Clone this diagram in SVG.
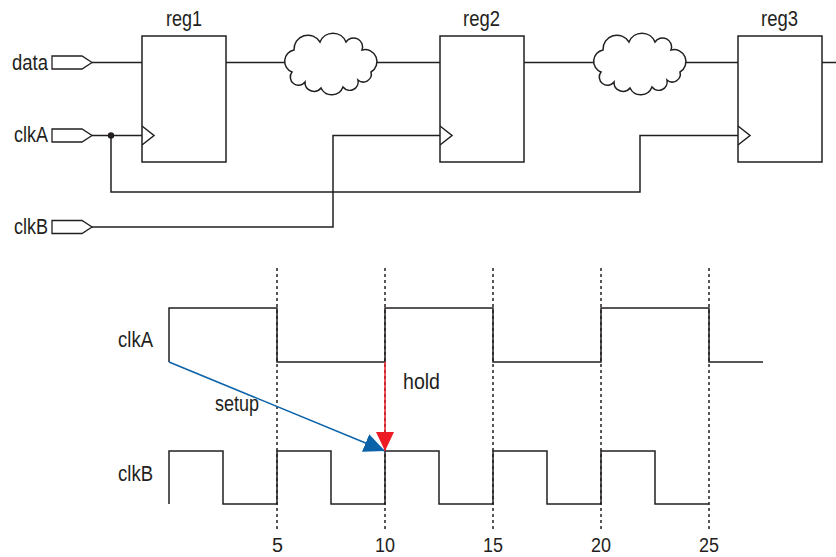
<svg xmlns="http://www.w3.org/2000/svg" width="836" height="557" viewBox="0 0 836 557">
<defs>
<style>
text{font-family:"Liberation Sans",Arial,sans-serif;font-size:22px;fill:#231f20}
text.n{font-size:20px}
.w{fill:none;stroke:#231f20;stroke-width:1.5}
.box{fill:#fff;stroke:#231f20;stroke-width:1.5}
.pin{fill:#fff;stroke:#231f20;stroke-width:1.3}
.dash{fill:none;stroke:#231f20;stroke-width:1.5;stroke-dasharray:3 3}
</style>
<marker id="ab" markerUnits="userSpaceOnUse" markerWidth="22" markerHeight="20" refX="21" refY="9.5" orient="auto"><path d="M0,0 L21,9.5 L0,19 z" fill="#0a62a8"/></marker>
<marker id="ar" markerUnits="userSpaceOnUse" markerWidth="20" markerHeight="20" refX="19" refY="9" orient="auto"><path d="M0,0 L19,9 L0,18 z" fill="#ed1c24"/></marker>
<path id="cloud" d="M294,50 A14,14 0 0 1 320,42 A14,14 0 0 1 346,42 A9,9 0 0 1 362,50 A12,12 0 0 1 371,72 A8,8 0 0 1 358,80 A8.5,8.5 0 0 1 343,87 A12,12 0 0 1 321,88 A9,9 0 0 1 305,82 A8,8 0 0 1 292,72 A11.5,11.5 0 0 1 294,50 Z"/>
</defs>

<g id="connectors">
<path class="w" d="M92,62.5 H142 M226,62.5 H291 M372,62.5 H440 M524,62.5 H600 M681,62.5 H738 M822,62.5 H836"/>
<path class="w" d="M92,135.5 H142"/>
<path class="w" d="M111,135.5 V192 H640 V135.5 H738"/>
<path class="w" d="M92,227 H333 V135.5 H440"/>
<circle cx="111" cy="135.5" r="3.2" fill="#231f20"/>
</g>

<g id="pin-data"><polygon class="pin" points="52,56 82,56 92,62.5 82,69 52,69"/><text x="12" y="70" textLength="36" lengthAdjust="spacingAndGlyphs">data</text></g>
<g id="pin-clkA"><polygon class="pin" points="52,129 82,129 92,135.5 82,142 52,142"/><text x="14" y="142" textLength="34" lengthAdjust="spacingAndGlyphs">clkA</text></g>
<g id="pin-clkB"><polygon class="pin" points="52,220.5 82,220.5 92,227 82,233.5 52,233.5"/><text x="14" y="234" textLength="34" lengthAdjust="spacingAndGlyphs">clkB</text></g>

<g id="reg1"><rect class="box" x="142" y="36" width="84" height="126"/><polyline class="w" points="142,126 154,135.5 142,145"/><text x="166" y="26" textLength="36" lengthAdjust="spacingAndGlyphs">reg1</text></g>
<g id="reg2"><rect class="box" x="440" y="36" width="84" height="126"/><polyline class="w" points="440,126 452,135.5 440,145"/><text x="463" y="26" textLength="37" lengthAdjust="spacingAndGlyphs">reg2</text></g>
<g id="reg3"><rect class="box" x="738" y="36" width="84" height="126"/><polyline class="w" points="738,126 750,135.5 738,145"/><text x="761" y="26" textLength="37" lengthAdjust="spacingAndGlyphs">reg3</text></g>

<g id="cloud1"><use href="#cloud" class="box"/></g>
<g id="cloud2"><use href="#cloud" class="box" transform="translate(309,0)"/></g>

<g id="timing">
<path class="dash" d="M277,268 V530 M385,268 V530 M493,268 V530 M601,268 V530 M709,268 V530"/>
<path class="w" d="M169,362 V308 H277 V362 H385 V308 H493 V362 H601 V308 H709 V362 H763"/>
<path class="w" d="M169,504 V451 H223 V504 H277 V451 H331 V504 H385 V451 H439 V504 H493 V451 H547 V504 H601 V451 H655 V504 H709"/>
<line x1="169" y1="362" x2="385" y2="451" stroke="#0a62a8" stroke-width="1.5" marker-end="url(#ab)"/>
<line x1="385" y1="362" x2="385" y2="451" stroke="#ed1c24" stroke-width="1.5" marker-end="url(#ar)"/>
<text x="118" y="347" textLength="35" lengthAdjust="spacingAndGlyphs">clkA</text>
<text x="118" y="481" textLength="35" lengthAdjust="spacingAndGlyphs">clkB</text>
<text x="215" y="411" textLength="44" lengthAdjust="spacingAndGlyphs">setup</text>
<text x="403" y="389" textLength="37" lengthAdjust="spacingAndGlyphs">hold</text>
<text class="n" x="272" y="552" textLength="11" lengthAdjust="spacingAndGlyphs">5</text>
<text class="n" x="375" y="552" textLength="20" lengthAdjust="spacingAndGlyphs">10</text>
<text class="n" x="483" y="552" textLength="20" lengthAdjust="spacingAndGlyphs">15</text>
<text class="n" x="591" y="552" textLength="20" lengthAdjust="spacingAndGlyphs">20</text>
<text class="n" x="699" y="552" textLength="20" lengthAdjust="spacingAndGlyphs">25</text>
</g>
</svg>
